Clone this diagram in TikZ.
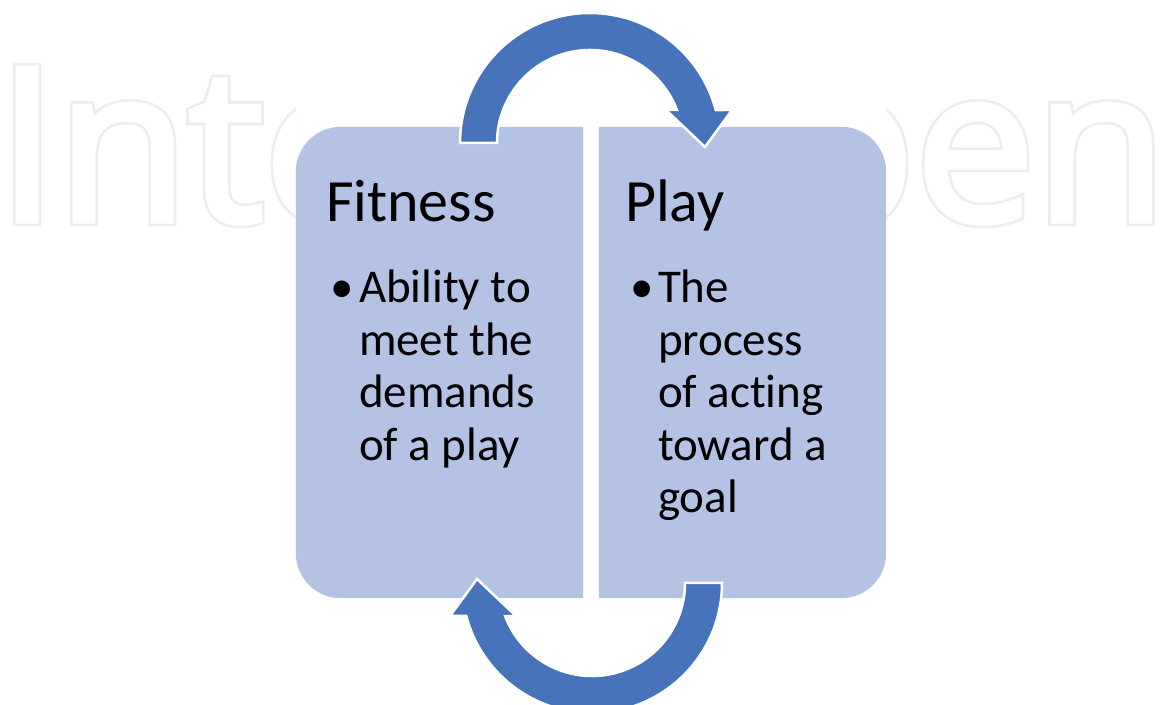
\documentclass[tikz,border=0pt]{standalone}
\usepackage{fontspec}
\setmainfont{Carlito}[Ligatures=NoCommon]
\newfontfamily\wmfont{Open Sans}
\usetikzlibrary{positioning,calc}
\definecolor{boxblue}{HTML}{B4C2E3}
\definecolor{arrowblue}{HTML}{4673BA}
\definecolor{wmgray}{HTML}{EDEDED}
% hollow letters: a wide grey stroke, then a narrower white one on top
\newcommand{\hollow}[1]{\special{pdf:literal direct 2 Tr 10.7 w}\rlap{#1}%
  \textcolor{white}{\special{pdf:literal direct 2 Tr 5.3 w}#1}\special{pdf:literal direct 0 Tr}}
\tikzset{>=latex,
  box/.style={minimum width=287pt,minimum height=471pt,inner sep=0pt},
  boxfill/.style={fill=boxblue},
  heading/.style={inner sep=0pt,anchor=base west,font=\fontsize{60}{72}\selectfont},
  item/.style={inner sep=0pt,anchor=base west,font=\fontsize{47}{52.5}\selectfont},
  cyclearrow/.style={fill=arrowblue,draw=white,line width=2.5pt,line join=miter}}

\begin{document}
\begin{tikzpicture}[x=1pt,y=1pt]
\useasboundingbox (0,0) rectangle (1167,704);
% watermark, kept out of the diagram's strip
\begin{scope}
\clip (0,0) rectangle (296,704) (886,0) rectangle (1167,704);
\node[inner sep=0pt,anchor=base west,text=wmgray,font=\wmfont\fontsize{214}{214}\selectfont] (mark) at (-3,483)
  {\hollow{IntechOpen}};
\end{scope}
% the two boxes
\node[box] (fitbox) at (439.5,341.5) {};
\node[box] (playbox) at (742.5,341.5) {};
\fill[boxfill] (fitbox.north east) -- ([xshift=45pt]fitbox.north west) arc[start angle=90,end angle=180,radius=45pt]
  -- ([yshift=45pt]fitbox.south west) arc[start angle=180,end angle=270,radius=45pt] -- (fitbox.south east) -- cycle;
\fill[boxfill] (playbox.north west) -- ([xshift=-45pt]playbox.north east) arc[start angle=90,end angle=0,radius=45pt]
  -- ([yshift=45pt]playbox.south east) arc[start angle=0,end angle=-90,radius=45pt] -- (playbox.south west) -- cycle;
% circular arrows
\coordinate (topc) at (590,561);
\coordinate (botc) at (592,121);
\filldraw[cyclearrow] ([shift={(180:93)}]topc) -- ([shift={(180:130)}]topc) arc[start angle=180,end angle=14.7,radius=130pt]
  -- ([shift={(142,33)}]topc) -- ([shift={(115,-4)}]topc) -- ([shift={(76,33)}]topc)
  -- ([shift={(20.8:93)}]topc) arc[start angle=20.8,end angle=180,radius=93pt] -- cycle;
\filldraw[cyclearrow] ([shift={(0:93)}]botc) -- ([shift={(0:130)}]botc) arc[start angle=0,end angle=-165.3,radius=130pt]
  -- ([shift={(-142,-33)}]botc) -- ([shift={(-115,4)}]botc) -- ([shift={(-76,-33)}]botc)
  -- ([shift={(-159.2:93)}]botc) arc[start angle=-159.2,end angle=0,radius=93pt] -- cycle;
% texts
\node[heading] (fittitle) at ([shift={(30,-95)}]fitbox.north west) {Fitness};
\node[item] (fitdot) at ([shift={(34,-176)}]fitbox.north west) {\textbullet};
\foreach \txt [count=\i] in {Ability to,meet the,demands,of a play}
  \node[item] (fitline\i) at ([shift={(63,{-176-52.5*(\i-1)})}]fitbox.north west) {\txt};
\node[heading] (playtitle) at ([shift={(26,-95)}]playbox.north west) {Play};
\node[item] (playdot) at ([shift={(31,-176)}]playbox.north west) {\textbullet};
\foreach \txt [count=\i] in {The,process,of acting,toward a,goal}
  \node[item] (playline\i) at ([shift={(59,{-176-52.5*(\i-1)})}]playbox.north west) {\txt};
\end{tikzpicture}
\end{document}
